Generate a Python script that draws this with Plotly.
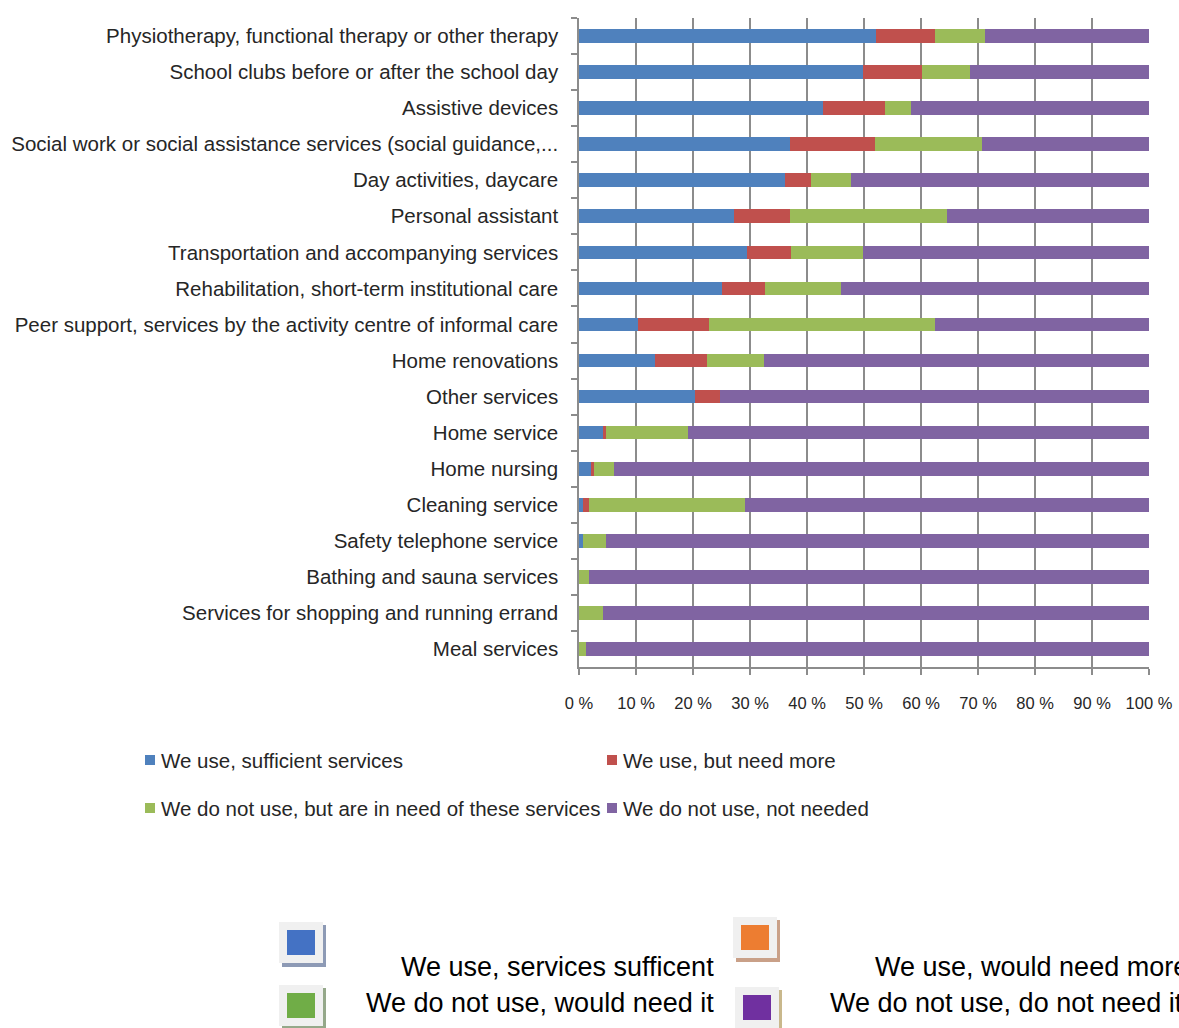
import plotly.graph_objects as go

categories = [
    "Physiotherapy, functional therapy or other therapy",
    "School clubs before or after the school day",
    "Assistive devices",
    "Social work or social assistance services (social guidance,...",
    "Day activities, daycare",
    "Personal assistant",
    "Transportation and accompanying services",
    "Rehabilitation, short-term institutional care",
    "Peer support, services by the activity centre of informal care",
    "Home renovations",
    "Other services",
    "Home service",
    "Home nursing",
    "Cleaning service",
    "Safety telephone service",
    "Bathing and sauna services",
    "Services for shopping and running errand",
    "Meal services",
]

use_sufficient = [52.1, 49.8, 42.8, 37.1, 36.2, 27.2, 29.5, 25.0, 10.3, 13.3, 20.3, 4.2, 2.1, 0.7, 0.7, 0.0, 0.0, 0.0]
use_need_more = [10.3, 10.3, 10.8, 14.8, 4.5, 9.9, 7.7, 7.7, 12.5, 9.1, 4.5, 0.6, 0.6, 1.1, 0.0, 0.0, 0.0, 0.0]
not_use_need = [8.9, 8.5, 4.7, 18.8, 7.0, 27.4, 12.6, 13.3, 39.6, 10.0, 0.0, 14.4, 3.5, 27.4, 4.1, 1.8, 4.2, 1.2]
not_use_not_needed = [28.7, 31.4, 41.7, 29.3, 52.3, 35.5, 50.2, 54.0, 37.6, 67.6, 75.2, 80.8, 93.8, 70.8, 95.2, 98.2, 95.8, 98.8]

series_names = [
    "We use, sufficient services",
    "We use, but need more",
    "We do not use, but are in need of these services",
    "We do not use, not needed",
]
series_colors = ["#4F81BD", "#C0504D", "#9BBB59", "#8064A2"]
series_values = [use_sufficient, use_need_more, not_use_need, not_use_not_needed]

tick_vals = [0, 10, 20, 30, 40, 50, 60, 70, 80, 90, 100]
tick_text = ["0 %", "10 %", "20 %", "30 %", "40 %", "50 %", "60 %", "70 %", "80 %", "90 %", "100 %"]

second_legend_labels = [
    "We use, services sufficent",
    "We use, would need more",
    "We do not use, would need it",
    "We do not use, do not need it",
]
second_legend_colors = ["#4472C4", "#ED7D31", "#70AD47", "#7030A0"]
second_legend_shadows = ["#8D9AB5", "#C9A088", "#95A88A", "#C9B88C"]

W, H = 1179, 1028
L, R, T, B = 579, 30, 18, 361
PW, PH = W - L - R, H - T - B


def px(xp):
    return (xp - L) / PW


def py(yp):
    return (H - B - yp) / PH


fig = go.Figure()
for name, color, vals in zip(series_names, series_colors, series_values):
    fig.add_trace(go.Bar(
        y=categories, x=vals, name=name, orientation="h",
        marker=dict(color=color, line=dict(width=0)),
        showlegend=False,
    ))

FONT = "Liberation Sans, Arial, sans-serif"
TXT = "#262626"

fig.update_layout(
    width=W, height=H,
    margin=dict(l=L, r=R, t=T, b=B, pad=0, autoexpand=False),
    barmode="stack",
    bargap=0.62,
    plot_bgcolor="white",
    paper_bgcolor="white",
    font=dict(family=FONT, color=TXT),
    xaxis=dict(
        range=[0, 100], tickvals=tick_vals, ticktext=tick_text,
        showgrid=True, gridcolor="#8C8C8C", gridwidth=1.5,
        showline=True, linecolor="#8C8C8C", linewidth=1.5,
        ticks="outside", ticklen=6, tickcolor="#8C8C8C", tickwidth=1.5,
        tickfont=dict(size=16.5, color=TXT), zeroline=False,
        ticklabelstandoff=14, automargin=False,
    ),
    yaxis=dict(
        autorange="reversed", type="category",
        showline=True, linecolor="#8C8C8C", linewidth=1.5,
        ticks="outside", ticklen=6, tickcolor="#8C8C8C", tickwidth=1.5,
        tickson="boundaries", showgrid=False,
        tickfont=dict(size=20.5, color=TXT),
        ticklabelstandoff=15, automargin=False,
    ),
)

annotations = []
shapes = []

# first legend (chart legend)
leg_pos = [(145, 760), (607, 760), (145, 808), (607, 808)]
for (lx, ly), name, color in zip(leg_pos, series_names, series_colors):
    shapes.append(dict(type="rect", xref="paper", yref="paper",
                       x0=px(lx), x1=px(lx + 10), y0=py(ly + 5), y1=py(ly - 5),
                       fillcolor=color, line=dict(width=0)))
    annotations.append(dict(text=name, xref="paper", yref="paper",
                            x=px(lx + 14), y=py(ly), xanchor="left", yanchor="middle",
                            showarrow=False, font=dict(size=20.5, color=TXT, family=FONT)))

# second legend (pasted icons)
icon_pos = [(279, 922), (733, 917), (279, 985), (735, 987)]
text_pos = [(399, 967), (873, 967), (364, 1003), (828, 1003)]
for (ix, iy), (tx, ty), name, color, shadow in zip(icon_pos, text_pos, second_legend_labels,
                                                   second_legend_colors, second_legend_shadows):
    shapes.append(dict(type="rect", xref="paper", yref="paper",
                       x0=px(ix + 3), x1=px(ix + 47), y0=py(iy + 45), y1=py(iy + 3),
                       fillcolor=shadow, line=dict(width=0)))
    shapes.append(dict(type="rect", xref="paper", yref="paper",
                       x0=px(ix), x1=px(ix + 44), y0=py(iy + 41), y1=py(iy),
                       fillcolor="#F0F0F0", line=dict(width=0)))
    shapes.append(dict(type="rect", xref="paper", yref="paper",
                       x0=px(ix + 8), x1=px(ix + 36), y0=py(iy + 33), y1=py(iy + 8),
                       fillcolor=color, line=dict(width=0)))
    annotations.append(dict(text=name, xref="paper", yref="paper",
                            x=px(tx), y=py(ty), xanchor="left", yanchor="middle",
                            showarrow=False, font=dict(size=27, color="#000000", family=FONT)))

fig.update_layout(annotations=annotations, shapes=shapes)

fig.write_html("out.html")
